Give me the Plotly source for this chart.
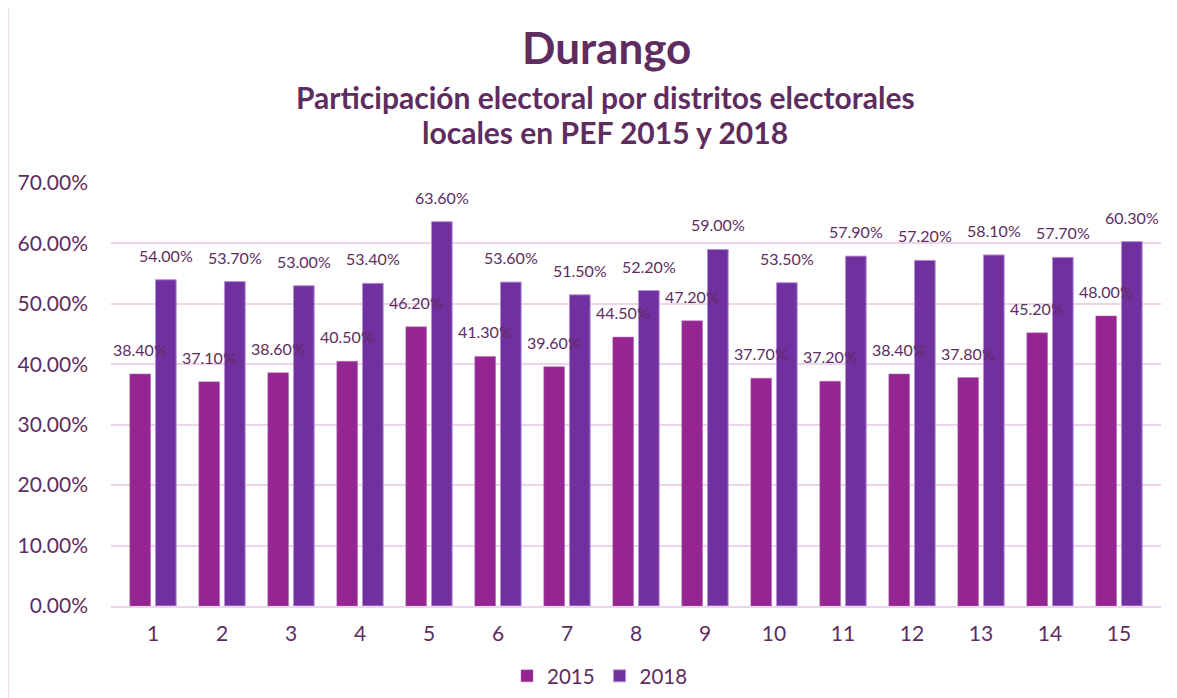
import plotly.graph_objects as go

districts = [str(i) for i in range(1, 16)]
p2015 = [38.4, 37.1, 38.6, 40.5, 46.2, 41.3, 39.6, 44.5, 47.2, 37.7, 37.2, 38.4, 37.8, 45.2, 48.0]
p2018 = [54.0, 53.7, 53.0, 53.4, 63.6, 53.6, 51.5, 52.2, 59.0, 53.5, 57.9, 57.2, 58.1, 57.7, 60.3]

W, H = 1177, 698
OFF = 8  # page body margin offset
# target plot area in screenshot pixels
PL, PR, PT, PB = 111, 1161, 183, 606
L, T = PL - OFF, PT - OFF
R = W - (PR - OFF)
B = H - (PB - OFF)
pw, ph = PR - PL, PB - PT

def px_x(x):
    return (x - PL) / pw

def px_y(y):
    return (PB - y) / ph

txt = "#5e2c5f"
font = "Lato, sans-serif"

fig = go.Figure()
fig.add_trace(go.Bar(
    x=districts, y=[v / 100 for v in p2015], name="2015",
    marker=dict(color="#952592", line=dict(color="#b070b0", width=0.5)),
))
fig.add_trace(go.Bar(
    x=districts, y=[v / 100 for v in p2018], name="2018",
    marker=dict(color="#7030a0", line=dict(color="#b795d4", width=1)),
))

annotations = [
    dict(text="<b>Durango</b>", xref="paper", yref="paper", x=px_x(606), y=px_y(47),
         xanchor="center", yanchor="middle", showarrow=False,
         font=dict(size=44, color=txt, family=font)),
    dict(text="<b>Participación electoral por distritos electorales</b>", xref="paper", yref="paper",
         x=px_x(605), y=px_y(97), xanchor="center", yanchor="middle", showarrow=False,
         font=dict(size=30, color=txt, family=font)),
    dict(text="<b>locales en PEF 2015 y 2018</b>", xref="paper", yref="paper",
         x=px_x(605), y=px_y(132), xanchor="center", yanchor="middle", showarrow=False,
         font=dict(size=30, color=txt, family=font)),
]
for series, shift in ((p2015, -13), (p2018, 13)):
    for i, v in enumerate(series):
        annotations.append(dict(
            x=i, y=v / 100, xref="x", yref="y", text=f"{v:.2f}%",
            showarrow=False, xanchor="center", yanchor="bottom",
            xshift=shift, yshift=13,
            font=dict(size=16, color=txt, family=font),
        ))

fig.update_layout(
    width=W, height=H,
    margin=dict(l=L, r=R, t=T, b=B, autoexpand=False),
    paper_bgcolor="white", plot_bgcolor="white",
    barmode="group", bargap=0.257, bargroupgap=0.19,
    font=dict(family=font, color=txt),
    showlegend=True,
    legend=dict(orientation="h", x=px_x(600), xanchor="center", y=px_y(676), yanchor="middle",
                font=dict(size=20.5, color=txt, family=font),
                traceorder="normal"),
    xaxis=dict(type="category", categoryorder="array", categoryarray=districts,
               showgrid=False, showline=True, linecolor="#ecd5ea", linewidth=1.5,
               tickfont=dict(size=21, color=txt, family=font), ticks="",
               ticklabelstandoff=8),
    yaxis=dict(range=[0, 0.7], dtick=0.1, tickformat=".2%", showgrid=True,
               gridcolor="#ecd5ea", gridwidth=1.5, zeroline=False, showline=False,
               tickfont=dict(size=21, color=txt, family=font), ticks="",
               ticklabelstandoff=22),
    annotations=annotations,
    shapes=[
        dict(type="rect", xref="paper", yref="paper", x0=px_x(8), x1=px_x(1190),
             y0=px_y(710), y1=px_y(7), line=dict(color="#efd9ee", width=2), layer="below"),
    ],
)

fig.write_html("out.html")
